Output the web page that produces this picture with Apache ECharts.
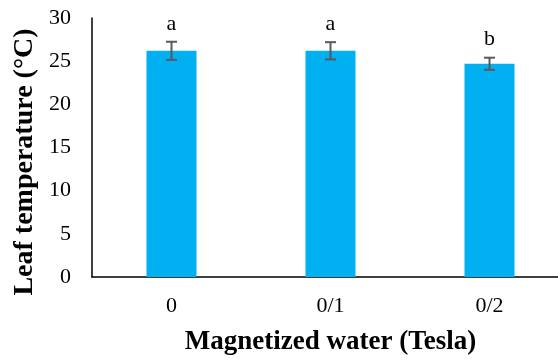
<!DOCTYPE html>
<html><head><meta charset="utf-8">
<script src="https://cdn.jsdelivr.net/npm/echarts@6/dist/echarts.min.js"></script>
<style>html,body{margin:0;padding:0;background:#fff}#c{width:558px;height:360px}</style>
</head><body><div id="c"></div>
<script>
var categories = ['0', '0/1', '0/2'];
var means = [26.2, 26.2, 24.7];
var errors = [1.05, 1.0, 0.7];
var letters = ['a', 'a', 'b'];
var yTicks = [0, 5, 10, 15, 20, 25, 30];

var chart = echarts.init(document.getElementById('c'));
var errData = means.map(function (m, i) { return [i, m - errors[i], m + errors[i], letters[i]]; });
chart.setOption({
  animation: false,
  grid: { left: 92, width: 477, top: 18, height: 259, containLabel: false, outerBoundsMode: 'none' },
  graphic: [{
    type: 'text', x: 25, y: 162, rotation: Math.PI / 2,
    style: { text: 'Leaf temperature (°C)', textAlign: 'center', textVerticalAlign: 'middle',
      fontFamily: 'Liberation Serif', fontSize: 28, fontWeight: 'bold', fill: '#000' }
  }],
  xAxis: {
    type: 'category', data: categories,
    axisLine: { lineStyle: { color: '#000', width: 1.5 } },
    axisTick: { show: false },
    axisLabel: { color: '#000', fontFamily: 'Liberation Serif', fontSize: 22, margin: 18 },
    name: 'Magnetized water (Tesla)', nameLocation: 'middle', nameGap: 52,
    nameTextStyle: { color: '#000', fontFamily: 'Liberation Serif', fontSize: 27, fontWeight: 'bold' }
  },
  yAxis: {
    type: 'value', min: yTicks[0], max: yTicks[yTicks.length - 1], interval: 5,
    axisLine: { show: true, lineStyle: { color: '#000', width: 1.5 } },
    axisTick: { show: false },
    splitLine: { show: false },
    axisLabel: { color: '#000', fontFamily: 'Liberation Serif', fontSize: 22, margin: 21 }
  },
  series: [{
    type: 'bar', data: means, barWidth: 50,
    itemStyle: { color: '#00B0F0' }
  }, {
    type: 'custom', data: errData, z: 10,
    renderItem: function (params, api) {
      var x = api.value(0);
      var lo = api.coord([x, api.value(1)]);
      var hi = api.coord([x, api.value(2)]);
      var hw = 5.5;
      var st = { stroke: '#595959', lineWidth: 2 };
      return { type: 'group', children: [
        { type: 'line', shape: { x1: lo[0], y1: lo[1], x2: hi[0], y2: hi[1] }, style: st },
        { type: 'line', shape: { x1: lo[0] - hw, y1: lo[1], x2: lo[0] + hw, y2: lo[1] }, style: st },
        { type: 'line', shape: { x1: hi[0] - hw, y1: hi[1], x2: hi[0] + hw, y2: hi[1] }, style: st },
        { type: 'text', style: { text: api.value(3), x: hi[0], y: hi[1] - 7, textAlign: 'center', textVerticalAlign: 'bottom',
          fontFamily: 'Liberation Serif', fontSize: 22, fill: '#000' } }
      ]};
    }
  }]
});
</script></body></html>
